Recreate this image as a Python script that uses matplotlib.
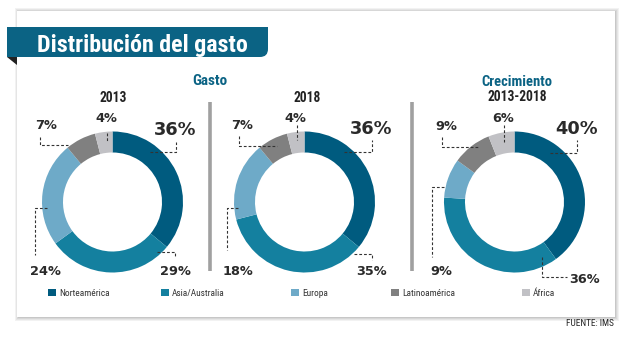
import matplotlib
matplotlib.use("Agg")
import matplotlib.pyplot as plt
from matplotlib import font_manager as fm
from matplotlib.patches import Rectangle, Polygon, FancyBboxPatch

# datos
regiones = ["Norteamérica", "Asia/Australia", "Europa", "Latinoamérica", "África"]
colores = ["#005b7f", "#14809f", "#6eaac8", "#808080", "#c1c1c5"]
gasto_2013 = [36, 29, 24, 7, 4]
gasto_2018 = [36, 35, 18, 7, 4]
crecimiento = [40, 36, 9, 9, 6]

W, H = 638, 341
AZUL = "#0b6384"


def buscar_fuente(claves):
    # busca un archivo de fuente angosta instalado
    archivos = [f.fname for f in fm.fontManager.ttflist]
    for c in claves:
        for a in archivos:
            if c.lower() in a.lower().replace(" ", "").replace("_", ""):
                return fm.FontProperties(fname=a)
    return None


F_BOLD = buscar_fuente(["LiberationSansNarrow-Bold.", "RobotoCondensed-Bold.", "DejaVuSansCondensed-Bold.",
                        "OpenSansCondensed-Bold."]) or fm.FontProperties(family="DejaVu Sans", weight="bold")
F_REG = buscar_fuente(["LiberationSansNarrow-Regular.", "RobotoCondensed-Regular.", "DejaVuSansCondensed.",
                       "OpenSansCondensed-Regular."]) or fm.FontProperties(family="DejaVu Sans")


def Y(y):
    # coordenadas de pixel con origen arriba
    return H - y


fig = plt.figure(figsize=(W / 100, H / 100), dpi=100)
ax = fig.add_axes([0, 0, 1, 1])
ax.set_xlim(0, W)
ax.set_ylim(0, H)
rend = fig.canvas.get_renderer()


def texto(x, y, s, fp, ancho, **kw):
    # texto con tamaño ajustado al ancho medido en la referencia
    t = ax.text(x, Y(y), s, fontproperties=fp.copy(), va="baseline", zorder=4, **kw)
    t.set_fontsize(10)
    w = t.get_window_extent(rend).width
    t.set_fontsize(10 * ancho / w)
    return t


# tarjeta con sombra
for i, a in enumerate([0.05, 0.05, 0.06, 0.07]):
    d = 4 - i
    ax.add_patch(Rectangle((17 - d + 2, Y(317 + d)), 598 + 2 * d - 2, 306 + 2 * d - 1,
                           facecolor="#000000", alpha=a, lw=0, zorder=0))
ax.add_patch(Rectangle((17, Y(317)), 598, 306, facecolor="white", lw=0, zorder=1))

# banda del titulo
ax.add_patch(FancyBboxPatch((7, Y(57)), 261, 30, boxstyle="round,pad=0,rounding_size=8",
                            facecolor=AZUL, lw=0, zorder=2))
ax.add_patch(Rectangle((7, Y(57)), 240, 30, facecolor=AZUL, lw=0, zorder=2))
ax.add_patch(Rectangle((230, Y(35)), 38, 8, facecolor=AZUL, lw=0, zorder=2))
ax.add_patch(Polygon([(7, Y(57)), (17, Y(57)), (17, Y(65))], closed=True,
                     facecolor="#222222", lw=0, zorder=2))
texto(37, 52, "Distribución del gasto", F_BOLD, 211, color="white", ha="left")

# encabezados
texto(210, 85, "Gasto", F_BOLD, 35, color=AZUL, ha="center")
texto(517, 86, "Crecimiento", F_BOLD, 71, color=AZUL, ha="center")

# separadores
for x in [210, 412]:
    ax.plot([x, x], [Y(102), Y(271)], color="#a0a0a0", lw=2.6, solid_capstyle="butt", zorder=2)

donas = [
    dict(valores=gasto_2013, titulo="2013", cx=112.5, cy=202, tx=113.5, ty=102,
         etiquetas=[(175, 135, 12.8), (175.5, 275, 9.3), (45.5, 275, 9.3), (46, 129, 9.3), (106, 122, 9.3)],
         guias=[[(150, 152), (176, 152), (176, 142)],
                [(157, 252), (175, 252), (175, 257)],
                [(47, 208), (35, 208), (35, 255)],
                [(40, 137), (40, 145), (68, 145)],
                [(107, 133), (107, 141)]]),
    dict(valores=gasto_2018, titulo="2018", cx=304.5, cy=202, tx=307, ty=102,
         etiquetas=[(371.5, 134, 12.8), (371.5, 275, 9.3), (237.5, 275, 9.3), (242.5, 129, 9.3), (295, 122, 9.3)],
         guias=[[(344, 152), (372, 152), (372, 140)],
                [(354, 254), (372, 254), (372, 260)],
                [(238, 208), (227, 208), (227, 250)],
                [(239, 136), (239, 146), (277, 146)],
                [(297, 125), (297, 140)]]),
    dict(valores=crecimiento, titulo="2013-2018", cx=514.5, cy=202, tx=517, ty=101,
         etiquetas=[(577, 134, 12.8), (585, 283, 9.3), (441, 275, 9.3), (446, 130, 9.3), (503.5, 122, 9.3)],
         guias=[[(550, 153), (577, 153), (577, 140)],
                [(542, 257), (542, 277), (567, 277)],
                [(444, 187), (432, 187), (432, 257)],
                [(442, 137), (442, 147), (478, 147)],
                [(504, 125), (504, 142)]]),
]

# mismo tamaño para los tres subtitulos de año
t0 = texto(0, 0, "2013-2018", F_BOLD, 60)
tam_anio = t0.get_fontsize()
t0.remove()

for d in donas:
    wedges, _ = ax.pie(d["valores"], colors=colores, startangle=90, counterclock=False,
                       radius=70.5, center=(d["cx"], Y(d["cy"])),
                       wedgeprops=dict(width=21, linewidth=0))
    for w in wedges:
        w.set_zorder(3)
    ax.text(d["tx"], Y(d["ty"]), d["titulo"], fontproperties=F_BOLD, fontsize=tam_anio,
            color="#222222", ha="center", va="baseline", zorder=4)
    for v, (x, y, fs) in zip(d["valores"], d["etiquetas"]):
        ax.text(x, Y(y), f"{v}%", fontsize=fs, weight="bold", color="#2a2a2a",
                ha="center", va="baseline", zorder=4)
    for g in d["guias"]:
        ax.plot([p[0] for p in g], [Y(p[1]) for p in g], color="#333333", lw=0.8,
                linestyle=(0, (2.5, 1.8)), zorder=4)

# leyenda
leyenda_x = [48, 161, 291, 391, 522]
t0 = texto(0, 296, regiones[0], F_REG, 50)
tam = t0.get_fontsize()
t0.remove()
for x, nombre, c in zip(leyenda_x, regiones, colores):
    ax.add_patch(Rectangle((x, Y(296)), 8, 7, facecolor=c, lw=0, zorder=3))
    ax.text(x + 11, Y(296), nombre, fontproperties=F_REG, fontsize=tam, color="#333333",
            ha="left", va="baseline", zorder=3)

texto(614, 326, "FUENTE: IMS", F_REG, 48, color="#222222", ha="right")

ax.set_xlim(0, W)
ax.set_ylim(0, H)
ax.set_aspect("auto")
ax.axis("off")

fig.savefig("out.png", dpi=100, facecolor="white")
